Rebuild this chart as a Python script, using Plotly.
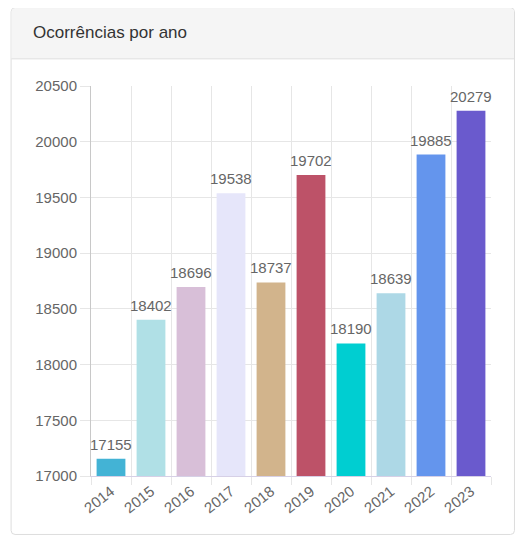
import plotly.graph_objects as go

# the page body has an 8px margin, so the figure is drawn 8px in from the corner
OFF = 8
W, H = 525 - OFF, 536 - OFF

# data
anos = ["2014", "2015", "2016", "2017", "2018", "2019", "2020", "2021", "2022", "2023"]
ocorrencias = [17155, 18402, 18696, 19538, 18737, 19702, 18190, 18639, 19885, 20279]
cores = ["#43b3d5", "#b0e0e6", "#d8bfd8", "#e6e6fa", "#d2b48c",
         "#bd5268", "#00ced1", "#add8e6", "#6495ed", "#6a5acd"]
y_ticks = [17000, 17500, 18000, 18500, 19000, 19500, 20000, 20500]

# plot area in (screen) pixels
PL, PR, PT, PB = 90.5 - OFF, 491 - OFF, 85.7 - OFF, 476 - OFF
pw, ph = PR - PL, PB - PT


def px_x(v):
    return (v - OFF - PL) / pw


def px_y(v):
    return (PB - (v - OFF)) / ph


def to_path(pts):
    out = []
    for p in pts:
        cmd, coords = p[0], p[1:]
        xy = []
        for i in range(0, len(coords), 2):
            xy.append(f"{px_x(coords[i]):.5f},{px_y(coords[i + 1]):.5f}")
        out.append(cmd + " ".join(xy))
    return " ".join(out) + " Z"


def rounded_rect(x0, y0, x1, y1, r):
    return to_path([
        ("M", x0 + r, y0), ("L", x1 - r, y0), ("Q", x1, y0, x1, y0 + r),
        ("L", x1, y1 - r), ("Q", x1, y1, x1 - r, y1), ("L", x0 + r, y1),
        ("Q", x0, y1, x0, y1 - r), ("L", x0, y0 + r), ("Q", x0, y0, x0 + r, y0),
    ])


def top_rounded(x0, y0, x1, y1, r):
    return to_path([
        ("M", x0, y1), ("L", x0, y0 + r), ("Q", x0, y0, x0 + r, y0),
        ("L", x1 - r, y0), ("Q", x1, y0, x1, y0 + r), ("L", x1, y1),
    ])


fig = go.Figure()
fig.add_trace(go.Bar(
    x=anos, y=ocorrencias,
    marker=dict(color=cores, line=dict(width=0)),
    width=0.72, hoverinfo="x+y",
))

# value labels above the bars (x given as category index)
labels = [dict(x=i, y=v, text=str(v), xref="x", yref="y",
               xanchor="center", yanchor="bottom", yshift=4,
               showarrow=False, font=dict(size=15, color="#666666"))
          for i, v in enumerate(ocorrencias)]

shapes = [
    # card background + border
    dict(type="path", xref="paper", yref="paper", layer="below",
         path=rounded_rect(10.5, 7.5, 514.5, 534.5, 4),
         fillcolor="white", line=dict(color="#dddddd", width=1)),
    # header
    dict(type="path", xref="paper", yref="paper", layer="below",
         path=top_rounded(11, 8, 514, 58, 3.5),
         fillcolor="#f5f5f5", line=dict(width=0)),
    dict(type="line", xref="paper", yref="paper", layer="below",
         x0=px_x(11), x1=px_x(514), y0=px_y(58.5), y1=px_y(58.5),
         line=dict(color="#dddddd", width=1)),
]

fig.update_layout(
    width=W, height=H,
    margin=dict(l=PL, r=W - PR, t=PT, b=H - PB, pad=0),
    paper_bgcolor="white", plot_bgcolor="white",
    font=dict(family="Arial, Liberation Sans, sans-serif", size=15, color="#666666"),
    showlegend=False,
    shapes=shapes,
    annotations=labels + [dict(
        text="Ocorrências por ano", xref="paper", yref="paper",
        x=px_x(30), y=px_y(32.5), xanchor="left", yanchor="middle",
        showarrow=False, font=dict(size=17, color="#333333"),
    )],
    bargap=0.28,
)
fig.update_yaxes(
    range=[17000, 20500], tickvals=y_ticks, tickformat="d",
    showgrid=True, gridcolor="#e6e6e6", gridwidth=1,
    ticks="outside", ticklen=10, tickcolor="#e6e6e6",
    showline=True, linecolor="#c8c8c8", linewidth=1,
    zeroline=False, tickfont=dict(size=15, color="#666666"),
)
fig.update_xaxes(
    type="category", tickson="boundaries", range=[-0.5, len(anos) - 0.5],
    showgrid=True, gridcolor="#e6e6e6", gridwidth=1,
    ticks="outside", ticklen=8, tickcolor="#e6e6e6",
    showline=True, linecolor="#d6d0e6", linewidth=1,
    tickangle=-38, tickfont=dict(size=15, color="#666666"),
)

fig.write_html("out.html")
